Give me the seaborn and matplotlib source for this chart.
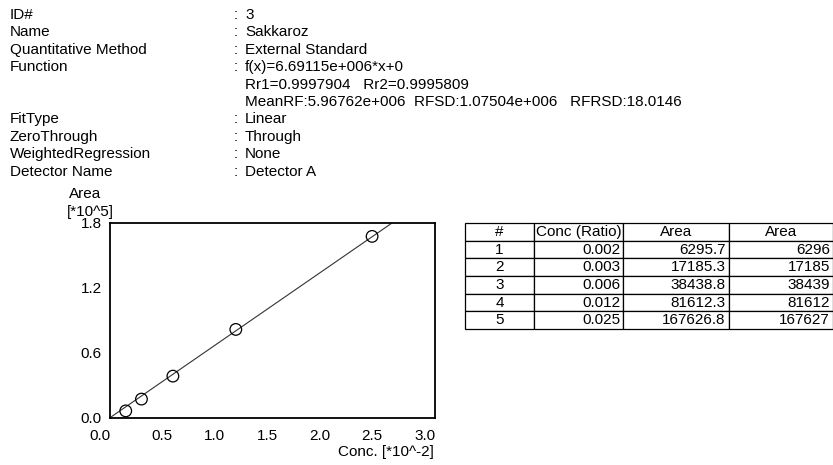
import matplotlib
matplotlib.use("Agg")
import matplotlib.pyplot as plt
import seaborn as sns
import numpy as np
import pandas as pd

# ---- report header ----
header_labels = ["ID#", "Name", "Quantitative Method", "Function", "", "",
                 "FitType", "ZeroThrough", "WeightedRegression", "Detector Name"]
header_values = ["3", "Sakkaroz", "External Standard", "f(x)=6.69115e+006*x+0",
                 "Rr1=0.9997904   Rr2=0.9995809",
                 "MeanRF:5.96762e+006  RFSD:1.07504e+006   RFRSD:18.0146",
                 "Linear", "Through", "None", "Detector A"]

# ---- calibration data ----
point_no = ["1", "2", "3", "4", "5"]
conc_ratio = ["0.002", "0.003", "0.006", "0.012", "0.025"]
area_raw = [6295.7, 17185.3, 38438.8, 81612.3, 167626.8]
area_round = [6296, 17185, 38439, 81612, 167627]
# plotted conc positions [*10^-2]
conc_plot = [0.15, 0.30, 0.60, 1.20, 2.50]
fit_slope = 6.69115e+006  # area per conc ratio
x_ticks = [0.0, 0.5, 1.0, 1.5, 2.0, 2.5, 3.0]
y_ticks = [0.0, 0.6, 1.2, 1.8]

sns.set_style("white")
plt.rcParams["font.family"] = ["Liberation Sans", "DejaVu Sans"]
plt.rcParams["text.color"] = "black"
plt.rcParams["xtick.color"] = "black"
plt.rcParams["ytick.color"] = "black"

W, H = 833, 465
fig = plt.figure(figsize=(W / 100, H / 100), dpi=100)

def px(x, y):
    return x / W, 1 - y / H

# header text block
for i, (lab, val) in enumerate(zip(header_labels, header_values)):
    yy = 15 + i * 17.4
    if lab:
        fig.text(*px(10, yy), lab, fontsize=11, va="center", ha="left")
        fig.text(*px(234, yy), ":", fontsize=11, va="center", ha="left")
    fig.text(*px(245, yy), val, fontsize=11, va="center", ha="left")

# calibration curve
ax = fig.add_axes([110 / W, 1 - 417.7 / H, (435 - 110) / W, (417.7 - 223) / H])
df = pd.DataFrame({"conc": conc_plot, "area": np.array(area_raw) / 1e5})
fit_x = np.array([0.0, 3.1])
fit_df = pd.DataFrame({"conc": fit_x, "area": fit_slope * fit_x * 1e-2 / 1e5})
sns.lineplot(data=fit_df, x="conc", y="area", ax=ax, color="#333333", linewidth=0.8)
sns.scatterplot(data=df, x="conc", y="area", ax=ax, marker="o", s=70,
                facecolor="none", edgecolor="black", linewidth=0.9, zorder=3)
ax.set_xlim(0, 3.1)
ax.set_ylim(0, 1.8)
ax.set_xticks(x_ticks)
ax.set_xticklabels([f"{v:.1f}" for v in x_ticks])
ax.set_yticks(y_ticks)
ax.set_yticklabels([f"{v:.1f}" for v in y_ticks])
ax.tick_params(length=0, labelsize=11)
ax.tick_params(axis="y", pad=6)
ax.tick_params(axis="x", pad=8)
ax.get_xticklabels()[0].set_ha("right")
for s in ax.spines.values():
    s.set_color("black")
    s.set_linewidth(1.3)
ax.set_xlabel("")
ax.set_ylabel("")
fig.text(*px(69, 194), "Area", fontsize=11, va="center", ha="left")
fig.text(*px(67, 212), "[*10^5]", fontsize=11, va="center", ha="left")
fig.text(*px(434, 452), "Conc. [*10^-2]", fontsize=11, va="center", ha="right")

# results table
cells = [[n, c, f"{a:.1f}", f"{r}"] for n, c, a, r in zip(point_no, conc_ratio, area_raw, area_round)]
tax = fig.add_axes([0, 0, 1, 1])
tax.axis("off")
tab = tax.table(cellText=cells, colLabels=["#", "Conc (Ratio)", "Area", "Area"],
                cellLoc="right", colLoc="center",
                bbox=[465 / W, 1 - 329 / H, (833 - 465) / W, (329 - 223) / H],
                colWidths=[534 - 465, 623 - 534, 729 - 623, 833 - 729])
tab.auto_set_font_size(False)
for (r, c), cell in tab.get_celld().items():
    cell.set_fontsize(11)
    cell.set_linewidth(0.9)
    cell.set_edgecolor("black")
    cell.PAD = 0.03
    if c == 0:
        cell._loc = "center"
        cell.get_text().set_ha("center")

fig.savefig("out.png", dpi=100)
